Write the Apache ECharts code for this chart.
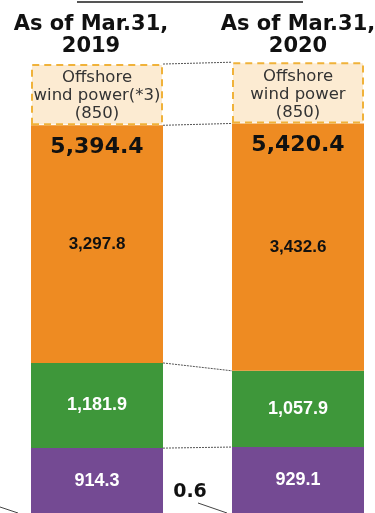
<!DOCTYPE html>
<html>
<head>
<meta charset="utf-8">
<script src="https://cdn.jsdelivr.net/npm/echarts@6/dist/echarts.min.js"></script>
<style>
  html, body { margin: 0; padding: 0; background: #fff; }
  #chart { width: 375px; height: 513px; }
</style>
</head>
<body>
<div id="chart"></div>
<script>
// data
const categories = ['As of Mar.31,\n2019', 'As of Mar.31,\n2020']
const purpleVals = [914.3, 929.1]
const greenVals = [1181.9, 1057.9]
const orangeVals = [3297.8, 3432.6]
const offshoreVals = [850, 850]
const totalLabels = ['5,394.4', '5,420.4']
const offshoreLabels = ['Offshore\nwind power(*3)\n(850)', 'Offshore\nwind power\n(850)']
const smallLabel = '0.6'

const BAR_W = 132
const fmt = v => v.toLocaleString('en-US', { minimumFractionDigits: 1, maximumFractionDigits: 1 })

const chart = echarts.init(document.getElementById('chart'))

const inLabel = (color, size) => ({
  show: true,
  position: 'inside',
  color,
  fontFamily: 'Liberation Sans, Arial, sans-serif',
  fontWeight: 'bold',
  fontSize: size,
  formatter: p => fmt(p.value)
})

const option = {
  animation: false,
  grid: { left: -3.5, right: -23.5, top: 60, bottom: -1, containLabel: false, outerBoundsMode: 'none' },
  xAxis: {
    type: 'category',
    position: 'top',
    // first title sits a little left of its bar in the original
    data: categories.map((c, i) => i === 0 ? { value: c, textStyle: { padding: [0, 12, 0, 0] } } : c),
    axisLine: { show: false },
    axisTick: { show: false },
    axisLabel: {
      margin: 2,
      color: '#111',
      fontFamily: 'DejaVu Sans, Verdana, sans-serif',
      fontWeight: 'bold',
      fontSize: 21,
      lineHeight: 22
    }
  },
  yAxis: { type: 'value', min: 0, max: 6300, show: false, splitLine: { show: false } },
  series: [
    {
      name: 'purple', type: 'bar', stack: 's', barWidth: BAR_W,
      data: purpleVals,
      itemStyle: { color: '#744a93' },
      label: inLabel('#fff', 18)
    },
    {
      name: 'green', type: 'bar', stack: 's', barWidth: BAR_W,
      data: greenVals,
      itemStyle: { color: '#3e973a' },
      label: inLabel('#fff', 18)
    },
    {
      name: 'orange', type: 'bar', stack: 's', barWidth: BAR_W,
      data: orangeVals,
      itemStyle: { color: '#ee8b22' },
      label: inLabel('#111', 17)
    },
    {
      name: 'offshore', type: 'bar', stack: 's', barWidth: BAR_W,
      data: offshoreVals,
      itemStyle: { color: '#fcebd2', borderColor: '#f0b23a', borderWidth: 2, borderType: [7, 5] },
      label: {
        show: true,
        position: 'inside',
        offset: [0, 1.5],
        color: '#333',
        fontFamily: 'DejaVu Sans, Verdana, sans-serif',
        fontSize: 16.5,
        lineHeight: 18,
        formatter: p => offshoreLabels[p.dataIndex]
      }
    },
    {
      // invisible bar carrying the total label near the top of orange
      name: 'total', type: 'bar', barWidth: BAR_W, barGap: '-100%', z: 5,
      data: purpleVals.map((v, i) => v + greenVals[i] + orangeVals[i]),
      itemStyle: { color: 'rgba(0,0,0,0)' },
      label: {
        show: true,
        position: 'insideTop',
        distance: 11,
        color: '#111',
        fontFamily: 'DejaVu Sans, Verdana, sans-serif',
        fontWeight: 'bold',
        fontSize: 22,
        formatter: p => totalLabels[p.dataIndex]
      }
    }
  ]
}

chart.setOption(option)

// dotted connectors between segment boundaries, plus the cropped annotations
function drawExtras() {
  const stacks = [purpleVals, greenVals, orangeVals, offshoreVals]
  const cum = [0, 0]
  const els = []
  stacks.forEach(arr => {
    cum[0] += arr[0]
    cum[1] += arr[1]
    const p0 = chart.convertToPixel({ gridIndex: 0 }, [0, cum[0]])
    const p1 = chart.convertToPixel({ gridIndex: 0 }, [1, cum[1]])
    els.push({
      type: 'line',
      shape: { x1: p0[0] + BAR_W / 2, y1: p0[1], x2: p1[0] - BAR_W / 2, y2: p1[1] },
      style: { stroke: '#555', lineWidth: 1, lineDash: [2, 1] },
      z: 10
    })
  })
  els.push({
    type: 'line',
    shape: { x1: 77, y1: 2, x2: 303, y2: 2 },
    style: { stroke: '#555', lineWidth: 2 }
  })
  els.push({
    type: 'line',
    shape: { x1: 0, y1: 507, x2: 18, y2: 513 },
    style: { stroke: '#444', lineWidth: 1 }
  })
  els.push({
    type: 'line',
    shape: { x1: 198, y1: 503, x2: 227, y2: 513 },
    style: { stroke: '#444', lineWidth: 1 }
  })
  els.push({
    type: 'text',
    x: 190, y: 492,
    style: {
      text: smallLabel,
      fill: '#111',
      font: 'bold 19px "DejaVu Sans", Verdana, sans-serif',
      align: 'center',
      verticalAlign: 'middle'
    }
  })
  chart.setOption({ graphic: { elements: els } })
}
drawExtras()
</script>
</body>
</html>
